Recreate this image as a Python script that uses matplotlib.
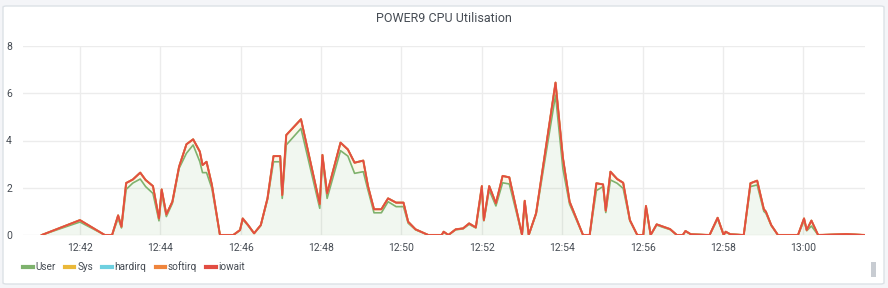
import matplotlib
matplotlib.use("Agg")
import matplotlib.pyplot as plt
import matplotlib.dates as mdates
from matplotlib.lines import Line2D
from matplotlib.patches import FancyBboxPatch, Rectangle
import numpy as np
import pandas as pd

plt.rcParams['font.family'] = ['Roboto', 'DejaVu Sans']

# Data (stacked series)
times = ["12:41:03", "12:42:00", "12:42:37", "12:42:48", "12:42:57", "12:43:02",
         "12:43:09", "12:43:19", "12:43:30", "12:43:38", "12:43:49", "12:43:58",
         "12:44:02", "12:44:09", "12:44:18", "12:44:28", "12:44:39", "12:44:49",
         "12:44:59", "12:45:03", "12:45:09", "12:45:17", "12:45:29", "12:45:49",
         "12:45:59", "12:46:03", "12:46:11", "12:46:20", "12:46:30", "12:46:40",
         "12:46:49", "12:46:59", "12:47:02", "12:47:08", "12:47:30", "12:47:58",
         "12:48:02", "12:48:09", "12:48:29", "12:48:40", "12:48:50", "12:49:03",
         "12:49:10", "12:49:19", "12:49:30", "12:49:40", "12:49:52", "12:50:03",
         "12:50:10", "12:50:21", "12:50:40", "12:51:00", "12:51:03", "12:51:10",
         "12:51:21", "12:51:32", "12:51:41", "12:51:51", "12:52:00", "12:52:03",
         "12:52:11", "12:52:21", "12:52:31", "12:52:41", "12:53:00", "12:53:04",
         "12:53:10", "12:53:21", "12:53:50", "12:54:01", "12:54:11", "12:54:31",
         "12:54:41", "12:54:51", "12:55:01", "12:55:05", "12:55:12", "12:55:22",
         "12:55:31", "12:55:41", "12:55:52", "12:56:01", "12:56:05", "12:56:12",
         "12:56:21", "12:56:31", "12:56:41", "12:56:51", "12:57:00", "12:57:04",
         "12:57:12", "12:57:40", "12:57:52", "12:58:01", "12:58:04", "12:58:11",
         "12:58:31", "12:58:41", "12:58:51", "12:59:01", "12:59:04", "12:59:12",
         "12:59:22", "12:59:52", "13:00:01", "13:00:05", "13:00:12", "13:00:22",
         "13:01:04", "13:01:32"]

user = [0, 0.55, 0, 0, 0.7, 0.3,
        1.93, 2.2, 2.37, 2.05, 1.76, 0.6,
        1.76, 0.78, 1.34, 2.82, 3.46, 3.81,
        3.1, 2.64, 2.64, 1.97, 0, 0,
        0.2, 0.65, 0.4, 0.07, 0.4, 1.5,
        3.1, 3.1, 1.55, 3.81, 4.51, 1.13,
        3.2, 1.55, 3.57, 3.34, 2.61, 2.68,
        1.9, 0.94, 0.94, 1.41, 1.2, 1.2,
        0.5, 0.22, 0, 0, 0.12, 0,
        0.22, 0.26, 0.45, 0.3, 1.9, 0.6,
        1.9, 1.23, 2.21, 2.16, 0, 1.4,
        0, 0.88, 5.92, 2.8, 1.3, 0,
        0, 1.88, 2.05, 0.95, 2.33, 2.19,
        1.97, 0.6, 0, 0, 1.15, 0,
        0.42, 0.32, 0.23, 0, 0, 0.15,
        0.03, 0, 0.68, 0, 0.12, 0.03,
        0, 2.05, 2.12, 1.0, 0.92, 0.4,
        0, 0, 0.6, 0.18, 0.38, 0,
        0.02, 0]

total = [0, 0.63, 0, 0, 0.83, 0.35,
         2.2, 2.35, 2.64, 2.33, 2.07, 0.7,
         1.93, 0.87, 1.41, 2.89, 3.84, 4.05,
         3.53, 2.96, 3.1, 2.12, 0, 0,
         0.21, 0.7, 0.42, 0.07, 0.42, 1.55,
         3.34, 3.34, 1.69, 4.23, 4.9, 1.31,
         3.39, 1.76, 3.91, 3.62, 3.06, 3.15,
         2.07, 1.09, 1.09, 1.55, 1.37, 1.37,
         0.56, 0.24, 0, 0, 0.14, 0,
         0.24, 0.28, 0.49, 0.32, 2.07, 0.63,
         2.07, 1.34, 2.5, 2.44, 0, 1.45,
         0, 0.92, 6.45, 3.27, 1.41, 0,
         0, 2.19, 2.14, 1.03, 2.68, 2.37,
         2.21, 0.63, 0, 0, 1.23, 0,
         0.45, 0.35, 0.25, 0, 0, 0.17,
         0.03, 0, 0.73, 0, 0.14, 0.03,
         0, 2.19, 2.3, 1.09, 0.99, 0.42,
         0, 0, 0.7, 0.21, 0.61, 0,
         0.04, 0]

sys_ = [round(t - u, 2) for t, u in zip(total, user)]
hardirq = [0] * len(times)
softirq = [0] * len(times)
iowait = [0] * len(times)

names = ["User", "Sys", "hardirq", "softirq", "iowait"]
colors = ["#7EB26D", "#EAB839", "#6ED0E0", "#EF843C", "#E24D42"]

x = pd.to_datetime(["2020-01-01 " + t for t in times])
series = [np.array(user), np.array(sys_), np.array(hardirq),
          np.array(softirq), np.array(iowait)]

fig = plt.figure(figsize=(8.88, 2.88), dpi=100)
fig.patch.set_facecolor("#f4f5f8")

# panel background
panel = FancyBboxPatch((3 / 888, 4 / 288), 881 / 888, 278 / 288,
                       boxstyle="round,pad=0,rounding_size=0.004",
                       transform=fig.transFigure, facecolor="white",
                       edgecolor="#dce1e6", linewidth=1, zorder=-5)
fig.patches.append(panel)

fig.text(0.5, 1 - 18 / 288, "POWER9 CPU Utilisation", ha="center", va="center",
         fontsize=9, color="#464c54")

ax = fig.add_axes([23 / 888, 1 - 235 / 288, 842 / 888, 189 / 288])
ax.set_facecolor("none")
ax.set_zorder(2)

bottom = np.zeros(len(times))
for i, (vals, c) in enumerate(zip(series, colors)):
    top = bottom + vals
    ax.fill_between(x, bottom, top, color=c, alpha=0.1, linewidth=0)
    lw = 1.5 if names[i] == "softirq" else 1.2
    ax.plot(x, top, color=c, linewidth=lw, zorder=3 + i)
    bottom = top

ax.set_ylim(0, 8)
ax.set_yticks([0, 2, 4, 6, 8])
ax.set_xlim(pd.Timestamp("2020-01-01 12:40:35"), pd.Timestamp("2020-01-01 13:01:32"))
ax.xaxis.set_major_locator(mdates.MinuteLocator(byminute=range(0, 60, 2)))
ax.xaxis.set_major_formatter(mdates.DateFormatter("%H:%M"))
ax.grid(True, color="#ececec", linewidth=1)
ax.set_axisbelow(True)
for s in ax.spines.values():
    s.set_visible(False)
ax.tick_params(length=0, labelsize=7.5, colors="#464c54", pad=6)
ax.tick_params(axis="y", pad=8)

handles = [Line2D([0], [0], color=c, linewidth=3) for c in colors]
fig.legend(handles, names, loc="lower left", bbox_to_anchor=(14 / 888, 7 / 288),
           ncol=5, frameon=False, fontsize=7.2, handlelength=0.95,
           handletextpad=0.3, columnspacing=0.9, labelcolor="#464c54")

# scrollbar
fig.patches.append(Rectangle((871 / 888, 1 - 277 / 288), 5 / 888, 15 / 288,
                             transform=fig.transFigure, facecolor="#c8ccd2",
                             edgecolor="none"))

fig.savefig("out.png", dpi=100)
